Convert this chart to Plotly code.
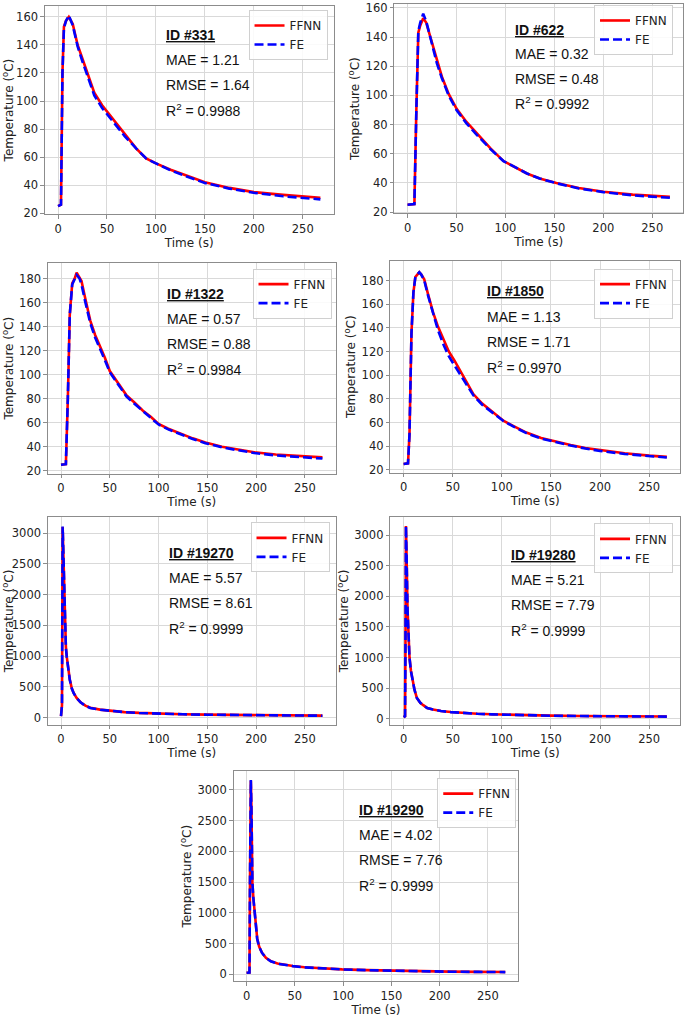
import plotly.graph_objects as go

W, H = 685, 1017

# ---------------- data ----------------
ids = ["331", "622", "1322", "1850", "19270", "19280", "19290"]
mae = ["1.21", "0.32", "0.57", "1.13", "5.57", "5.21", "4.02"]
rmse = ["1.64", "0.48", "0.88", "1.71", "8.61", "7.79", "7.76"]
r2 = ["0.9988", "0.9992", "0.9984", "0.9970", "0.9999", "0.9999", "0.9999"]

x_ticks = [0, 50, 100, 150, 200, 250]
y_ticks_low = [20, 40, 60, 80, 100, 120, 140, 160]
y_ticks_mid = [20, 40, 60, 80, 100, 120, 140, 160, 180]
y_ticks_high = [0, 500, 1000, 1500, 2000, 2500, 3000]

t_331 = [0, 3, 4.5, 6, 8, 11, 15, 20, 25, 30, 37, 45, 55, 68, 80, 90, 100, 115, 130, 150, 175, 200, 230, 268]
ffnn_331 = [25, 26, 120, 153, 157, 160, 155, 140, 130, 120, 106, 97, 88, 76, 66, 59, 55.5, 51, 47, 42, 38, 35, 33, 31]
fe_331 = [25, 26, 120, 152, 157, 161, 154, 139, 128, 118, 104, 95, 86, 75, 66, 59, 55.5, 50.5, 46.5, 41.5, 37.5, 34.5, 32, 29.8]

t_622 = [0, 7, 9, 11, 13, 16, 19, 24, 30, 35, 42, 50, 60, 70, 85, 98, 110, 122, 135, 152, 175, 200, 230, 268]
ffnn_622 = [25, 25.5, 90, 143, 148, 153, 150, 138, 124, 113, 101, 91, 82, 74.5, 63.5, 55, 50.5, 46.5, 43, 40, 36.5, 34, 32, 30.5]
fe_622 = [25, 25.5, 90, 144, 150, 156, 151, 137, 122, 112, 100, 90, 81, 73.5, 63, 55, 50.5, 46.5, 43, 39.8, 36.2, 33.7, 31.5, 29.8]

t_1322 = [0, 5, 7, 9, 11.5, 14, 16, 19, 21, 25, 30, 35, 40, 45, 50, 58, 67, 75, 84, 92, 100, 110, 124, 135, 148, 165, 180, 198, 220, 245, 268]
ffnn_1322 = [25, 25.5, 80, 150, 176, 180, 185, 181, 178, 163, 145, 133, 124, 114, 103, 94, 83, 77, 70, 65, 59, 55, 50.5, 47, 43.5, 40, 38, 35.5, 33.5, 32, 31.2]
fe_1322 = [25, 25.5, 80, 150, 175, 179, 183, 180, 175, 160, 143, 131, 122, 112, 102, 93, 82, 76, 69.5, 64.5, 58.5, 54.5, 50, 46.5, 43, 39.5, 37.3, 34.8, 32.8, 31.2, 30.2]

t_1850 = [0, 4.5, 6, 8, 10, 12, 14, 16, 18, 21, 25, 30, 35, 41, 46, 52, 60, 71, 80, 90, 102, 112, 125, 140, 152, 170, 185, 200, 225, 250, 268]
ffnn_1850 = [25, 25.5, 50, 135, 170, 183, 185, 187, 185, 181, 168, 153, 141, 129, 120, 112, 100, 84, 76, 69, 61.3, 57, 51.5, 47, 44.5, 41, 38.5, 36.7, 34, 32, 31]
fe_1850 = [25, 25.5, 50, 135, 170, 183, 185, 187, 185, 180, 167, 152, 138, 125, 116, 108, 97, 83, 75, 68.5, 61, 56.5, 51, 46.5, 44, 40.5, 38, 36, 33.4, 31.4, 30.4]

t_19270 = [0, 1, 1.7, 2.5, 3, 4, 5, 6, 7.5, 9, 11, 13, 16, 20, 25, 30, 40, 52, 65, 80, 100, 125, 150, 180, 210, 240, 268]
ffnn_19270 = [25, 200, 3100, 2600, 2100, 1400, 1150, 980, 780, 620, 480, 400, 320, 250, 195, 160, 130, 105, 90, 77, 65, 55, 48, 42, 37, 34, 32]
fe_19270 = [25, 200, 3110, 2610, 2100, 1390, 1140, 975, 775, 615, 478, 398, 318, 248, 193, 158, 128, 104, 89, 76, 64, 54, 47, 41, 36, 33, 31]

t_19280 = [0, 1.5, 2, 2.4, 3, 4, 5, 6, 7.5, 9, 11, 13.5, 17, 20, 24, 30, 38, 48, 60, 75, 90, 102, 125, 150, 180, 210, 240, 268]
ffnn_19280 = [25, 40, 1500, 3150, 2700, 1800, 1300, 1000, 780, 620, 480, 340, 260, 220, 175, 150, 125, 108, 92, 80, 71, 65, 56, 49, 43, 39, 36, 34]
fe_19280 = [25, 40, 1500, 3155, 2700, 1790, 1290, 995, 775, 615, 478, 338, 258, 218, 173, 148, 124, 107, 91, 79, 70, 64, 55, 48, 42, 38, 35, 33]

t_19290 = [0, 3, 3.5, 4.4, 5, 6, 7, 8, 9.5, 11, 13, 16, 20, 25, 32, 40, 48, 60, 75, 99, 125, 150, 180, 210, 240, 268]
ffnn_19290 = [25, 30, 1500, 3150, 2700, 1500, 1250, 1050, 800, 580, 450, 350, 270, 215, 175, 150, 135, 115, 98, 81, 68, 58, 50, 44, 40, 37]
fe_19290 = [25, 30, 1500, 3160, 2700, 1490, 1240, 1045, 795, 575, 448, 348, 268, 213, 173, 148, 133, 113, 97, 80, 67, 57, 49, 43, 39, 36]

series = [
    (t_331, ffnn_331, fe_331),
    (t_622, ffnn_622, fe_622),
    (t_1322, ffnn_1322, fe_1322),
    (t_1850, ffnn_1850, fe_1850),
    (t_19270, ffnn_19270, fe_19270),
    (t_19280, ffnn_19280, fe_19280),
    (t_19290, ffnn_19290, fe_19290),
]
y_tick_sets = [y_ticks_low, y_ticks_low, y_ticks_mid, y_ticks_mid, y_ticks_high, y_ticks_high, y_ticks_high]

# ---------------- layout (pixels) ----------------
frames = [(44, 333, 3, 213), (394, 683, 1, 212), (47, 335, 262, 475), (390, 680, 260, 474),
          (47, 335, 519, 728), (390, 680, 519, 728), (233, 518, 775, 987)]
yranges = [(19.3, 167.8), (19.3, 162.7), (17.5, 193.2), (17.5, 196.7),
           (-113, 3258), (-97, 3292), (-113, 3306)]
xrange_ = (-13.4, 281.4)
legpos = [(327, 7), (673, 2), (331, 268), (673, 268), (329, 524), (673, 525), (516, 782)]
annpos = [(163, 32, 25.3), (513, 27, 24.7), (164, 294, 25), (485, 291, 25.5),
          (166, 555, 25.3), (509, 557, 25.3), (357, 814, 25.3)]

TXT = "#222222"
FRAME = "#8c8c8c"
GRID = "#d9d9d9"
TICKFONT = dict(family="DejaVu Sans", size=11.5, color=TXT)
TITLEFONT = dict(family="DejaVu Sans", size=12, color=TXT)

fig = go.Figure()
layout = dict(width=W, height=H, margin=dict(l=0, r=0, t=0, b=0),
              paper_bgcolor="white", plot_bgcolor="white", showlegend=True)
annotations = []

for i, ((t, ff, fe), (l, r, tp, bt)) in enumerate(zip(series, frames)):
    n = "" if i == 0 else str(i + 1)
    leg = "legend" + n
    fig.add_trace(go.Scatter(x=t, y=ff, mode="lines", name="FFNN",
                             line=dict(color="#ff0000", width=2.6),
                             xaxis="x" + n, yaxis="y" + n, legend=leg))
    fig.add_trace(go.Scatter(x=t, y=fe, mode="lines", name="FE",
                             line=dict(color="#0000ff", width=2.6, dash="9px,4px"),
                             xaxis="x" + n, yaxis="y" + n, legend=leg))
    common = dict(showline=True, linecolor=FRAME, linewidth=1.2, mirror=True,
                  showgrid=True, gridcolor=GRID, gridwidth=1, zeroline=False,
                  ticks="outside", ticklen=3.5, tickcolor=FRAME, tickwidth=1,
                  tickfont=TICKFONT, ticklabeloverflow="allow")
    layout["xaxis" + n] = dict(domain=[l / W, r / W], anchor="y" + n, range=list(xrange_),
                               tickvals=x_ticks,
                               title=dict(text="Time (s)", font=TITLEFONT, standoff=1),
                               **common)
    layout["yaxis" + n] = dict(domain=[1 - bt / H, 1 - tp / H], anchor="x" + n,
                               range=list(yranges[i]), tickvals=y_tick_sets[i],
                               title=dict(text="Temperature (<sup>o</sup>C)", font=TITLEFONT, standoff=3),
                               **common)
    lx, ly = legpos[i]
    layout[leg] = dict(x=lx / W, y=1 - ly / H, xanchor="right", yanchor="top",
                       bgcolor="rgba(255,255,255,0.85)", bordercolor="#d0d0d0", borderwidth=1,
                       font=dict(family="DejaVu Sans", size=12, color=TXT),
                       itemwidth=30, tracegroupgap=0)
    ax, ay, dy = annpos[i]
    texts = ["<b><u>ID #%s</u></b>" % ids[i], "MAE = %s" % mae[i],
             "RMSE = %s" % rmse[i], "R<sup>2</sup> = %s" % r2[i]]
    for k, s in enumerate(texts):
        annotations.append(dict(text=s, x=ax / W, y=1 - (ay + k * dy) / H, xref="paper", yref="paper",
                                xanchor="left", yanchor="middle", showarrow=False,
                                font=dict(family="Liberation Sans, Arial", size=14, color="#111111")))

layout["annotations"] = annotations
fig.update_layout(**layout)
fig.write_html("out.html", config={"displayModeBar": False},
               post_script="document.body.style.margin='0';document.body.style.padding='0';")
